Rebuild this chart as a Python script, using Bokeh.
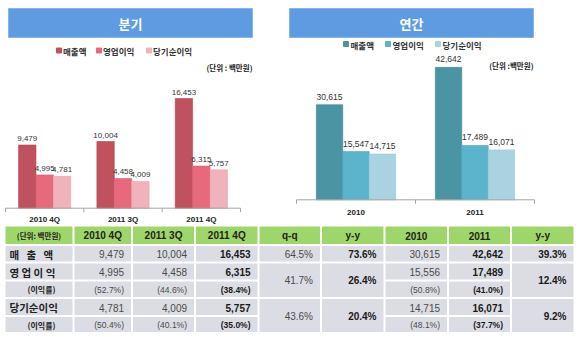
import math
from bokeh.plotting import figure
from bokeh.models import Range1d
from bokeh.core.properties import value
from bokeh.embed import file_html
from bokeh.resources import INLINE

# ---------------- data ----------------
series = ["매출액", "영업이익", "당기순이익"]

quarters = ["2010 4Q", "2011 3Q", "2011 4Q"]
q_sales = [9479, 10004, 16453]
q_op = [4995, 4458, 6315]
q_net = [4781, 4009, 5757]

years = ["2010", "2011"]
y_sales = [30615, 42642]
y_op = [15547, 17489]
y_net = [14715, 16071]

table_header = ["(단위: 백만원)", "2010 4Q", "2011 3Q", "2011 4Q", "q-q", "y-y", "2010", "2011", "y-y"]
row_labels = ["매 출 액", "영 업 이 익", "(이익률)", "당기순이익", "(이익률)"]
col_2010_4q = ["9,479", "4,995", "(52.7%)", "4,781", "(50.4%)"]
col_2011_3q = ["10,004", "4,458", "(44.6%)", "4,009", "(40.1%)"]
col_2011_4q = ["16,453", "6,315", "(38.4%)", "5,757", "(35.0%)"]
col_qq = ["64.5%", "41.7%", "43.6%"]
col_yy_q = ["73.6%", "26.4%", "20.4%"]
col_2010 = ["30,615", "15,556", "(50.8%)", "14,715", "(48.1%)"]
col_2011 = ["42,642", "17,489", "(41.0%)", "16,071", "(37.7%)"]
col_yy_a = ["39.3%", "12.4%", "9.2%"]

# ---------------- styles ----------------
W, H = 580, 337
KR = value("Noto Sans CJK KR")
NUM = value("Liberation Sans")
HEADER_BLUE = "#5e9be1"
Q_COLORS = ["#c0525f", "#e66a7c", "#f1b3bb"]
A_COLORS = ["#4a94a4", "#5bb4cc", "#a9d3e0"]
Q_EDGE = ["#b04855", "#d85e70", "#e6a5ae"]
A_EDGE = ["#418595", "#50a6bd", "#9cc6d3"]
GREEN = "#9fd66b"
GRAY = "#dcdde4"

p = figure(width=W, height=H, x_range=Range1d(0, W), y_range=Range1d(H, 0),
           output_backend="svg", toolbar_location=None,
           x_axis_location=None, y_axis_location=None,
           min_border=0, min_border_left=0, min_border_right=0,
           min_border_top=0, min_border_bottom=0)
p.outline_line_color = None
p.grid.visible = False
p.background_fill_color = "white"
p.border_fill_color = "white"


def chart_ranges(name, origin_x, px_per_cat, origin_y, units_per_px):
    p.extra_x_ranges[name] = Range1d(-origin_x / px_per_cat, (W - origin_x) / px_per_cat)
    p.extra_y_ranges[name] = Range1d(-(H - origin_y) * units_per_px, origin_y * units_per_px)


def bar_chart(name, cats, vals, colors, edges, label_font, label_off, cat_off):
    n = len(cats)
    w = 2.0 / 9.0
    kw = dict(x_range_name=name, y_range_name=name)
    for j, (v, c, e) in enumerate(zip(vals, colors, edges)):
        xs = [i + 0.5 + (j - 1) * w for i in range(n)]
        p.vbar(x=xs, top=v, width=w, bottom=0, fill_color=c, line_color=e, line_width=0.6, **kw)
        p.text(x=xs, y=v, text=[f"{a:,}" for a in v], text_align="center",
               text_baseline="bottom", y_offset=-label_off, text_font=NUM,
               text_font_size=label_font, text_color="#333333", **kw)
    # category axis: line, boundary ticks, labels
    p.segment(x0=[0], y0=[0], x1=[n], y1=[0], line_color="#a6a6a6", line_width=1, **kw)
    p.ray(x=list(range(n + 1)), y=[0] * (n + 1), length=4, length_units="screen",
          angle=-math.pi / 2, line_color="#a6a6a6", line_width=1, **kw)
    p.text(x=[i + 0.5 for i in range(n)], y=[0] * n, text=cats, text_align="center",
           text_baseline="middle", y_offset=cat_off, text_font=NUM, text_font_style="bold",
           text_font_size="8px", text_color="#222222", **kw)


def panel_decor(title, head, colors, legend_sq, legend_tx, legend_y, unit_text, unit_x, unit_y):
    p.quad(left=[head[0]], right=[head[1]], top=[head[2]], bottom=[head[3]],
           fill_color=HEADER_BLUE, line_color="#86b4ea", line_width=1)
    p.text(x=[(head[0] + head[1]) / 2], y=[(head[2] + head[3]) / 2 + 0.5], text=[title],
           text_align="center", text_baseline="middle", text_font=KR, text_font_style="bold",
           text_font_size="13px", text_color="white")
    p.scatter(x=legend_sq, y=[legend_y] * 3, marker="square", size=5,
              fill_color=colors, line_color=colors)
    p.text(x=legend_tx, y=[legend_y + 0.5] * 3, text=series, text_align="left",
           text_baseline="middle", text_font=KR, text_font_style="bold",
           text_font_size="8.5px", text_color="#333333")
    p.text(x=[unit_x], y=[unit_y], text=[unit_text], text_align="right",
           text_baseline="middle", text_font=KR, text_font_style="bold",
           text_font_size="7.5px", text_color="#222222")


# quarterly panel
panel_decor("분기", (8, 252, 8, 37), Q_COLORS, [58.5, 98.5, 148.5], [62.5, 102.5, 152.5], 50,
            "(단위 : 백만원)", 252, 67)
chart_ranges("q", 5, 235 / 3, 207.7, 150)
bar_chart("q", quarters, [q_sales, q_op, q_net], Q_COLORS, Q_EDGE, "8px", 4, 11.5)

# annual panel
panel_decor("연간", (289, 533, 8, 37), A_COLORS, [345.5, 387.5, 437.5], [350, 392, 442], 43.5,
            "(단위 :백만원)", 533, 65)
chart_ranges("a", 296, 119, 199.3, 322)
bar_chart("a", years, [y_sales, y_op, y_net], A_COLORS, A_EDGE, "8.5px", 5, 12.5)

# ---------------- table ----------------
col_edges = [4, 73, 131.5, 194.5, 258, 320.5, 384, 447.5, 510.5, 574]
row_edges = [225, 244.5, 262, 280, 297.5, 315.5, 332.5]
columns = [row_labels, col_2010_4q, col_2011_3q, col_2011_4q, col_qq, col_yy_q,
           col_2010, col_2011, col_yy_a]
merged = {4, 5, 8}
bold_cols = {3, 5, 7, 8}
groups = [(0, 0), (1, 2), (3, 4)]

# header row
hl = [col_edges[c] + 1 for c in range(9)]
hr = [col_edges[c + 1] - 1 for c in range(9)]
p.quad(left=hl, right=hr, top=[row_edges[0] + 1] * 9, bottom=[row_edges[1] - 1] * 9,
       fill_color=GREEN, line_color=None)
hx = [(col_edges[c] + col_edges[c + 1]) / 2 for c in range(9)]
hy = (row_edges[0] + row_edges[1]) / 2 + 0.5
p.text(x=hx[:1], y=[hy], text=table_header[:1], text_align="center", text_baseline="middle",
       text_font=KR, text_font_style="bold", text_font_size="7.5px", text_color="#222222")
p.text(x=hx[1:], y=[hy] * 8, text=table_header[1:], text_align="center", text_baseline="middle",
       text_font=NUM, text_font_style="bold", text_font_size="10px", text_color="#222222")

# body cells
cl, cr, ct, cb = [], [], [], []
for c in range(9):
    spans = groups if c in merged else [(r, r) for r in range(5)]
    for (r0, r1) in spans:
        cl.append(col_edges[c] + 1); cr.append(col_edges[c + 1] - 1)
        ct.append(row_edges[r0 + 1] + 1); cb.append(row_edges[r1 + 2] - 1)
p.quad(left=cl, right=cr, top=ct, bottom=cb, fill_color=GRAY, line_color=None)

# first column labels
label_disp = [s.replace(" ", "\u2002\u2009") if s.count(" ") == 2 else s for s in row_labels]
main_rows = [0, 1, 3]
p.text(x=[9] * 3, y=[(row_edges[r + 1] + row_edges[r + 2]) / 2 + 0.5 for r in main_rows],
       text=[label_disp[r] for r in main_rows], text_align="left", text_baseline="middle",
       text_font=KR, text_font_style="bold", text_font_size="10.5px", text_color="#222222")
sub_rows = [2, 4]
p.text(x=[41] * 2, y=[(row_edges[r + 1] + row_edges[r + 2]) / 2 + 0.5 for r in sub_rows],
       text=[label_disp[r] for r in sub_rows], text_align="center", text_baseline="middle",
       text_font=KR, text_font_style="bold", text_font_size="8px", text_color="#222222")

# numeric columns
for c in range(1, 9):
    vals = columns[c]
    spans = groups if c in merged else [(r, r) for r in range(5)]
    bold = c in bold_cols
    for (r0, r1), txt in zip(spans, vals):
        small = txt.startswith("(")
        p.text(x=[col_edges[c + 1] - 8], y=[(row_edges[r0 + 1] + row_edges[r1 + 2]) / 2 + 0.5],
               text=[txt], text_align="right", text_baseline="middle", text_font=NUM,
               text_font_style="bold" if bold else "normal",
               text_font_size="8.5px" if small else "10px",
               text_color="#1a1a1a" if bold else "#4a4a4a")

open("out.html", "w").write(file_html(p, INLINE))
